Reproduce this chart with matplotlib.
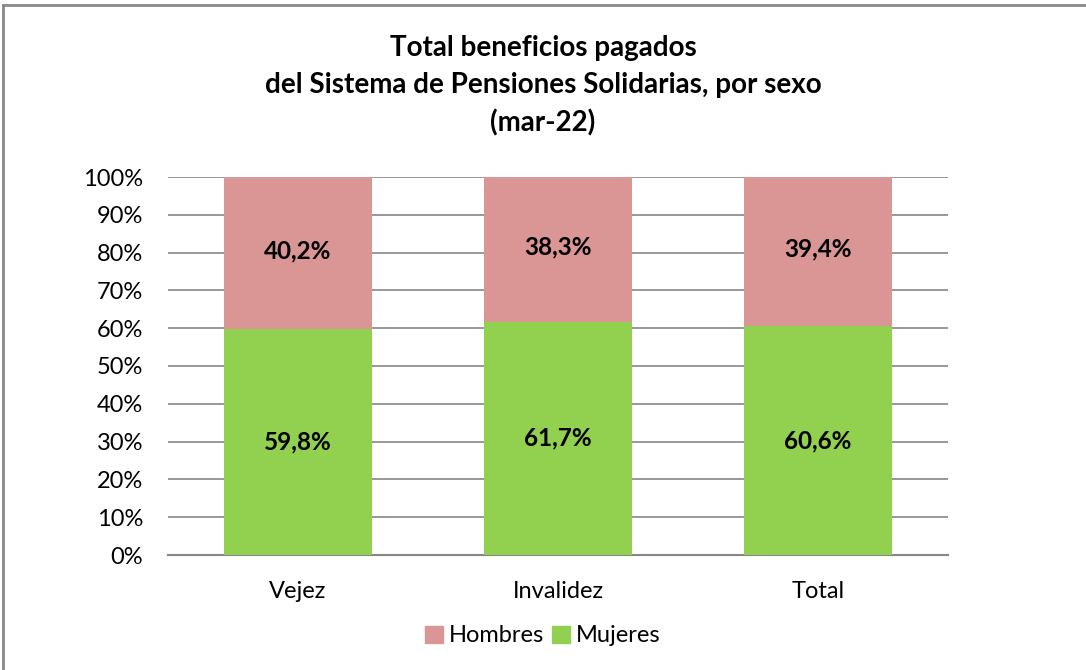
import matplotlib
matplotlib.use("Agg")
import matplotlib.pyplot as plt
from matplotlib.lines import Line2D
from matplotlib.patches import Patch

plt.rcParams['font.family'] = ['Lato', 'DejaVu Sans']

categories = ["Vejez", "Invalidez", "Total"]
mujeres = [59.8, 61.7, 60.6]
hombres = [40.2, 38.3, 39.4]
yticks = [0, 10, 20, 30, 40, 50, 60, 70, 80, 90, 100]

c_h = "#D99694"
c_m = "#92D050"
grid_c = "#868686"

fig = plt.figure(figsize=(10.86, 6.70), dpi=100)
W, H = 1086, 670
ax = fig.add_axes([168 / W, 1 - 555 / H, 780 / W, 378 / H])

x = list(range(len(categories)))
bw = 148 / 260
ax.bar(x, mujeres, width=bw, color=c_m, zorder=3)
ax.bar(x, hombres, width=bw, bottom=mujeres, color=c_h, zorder=3)

for i in x:
    ax.text(i, mujeres[i] / 2, f"{mujeres[i]:.1f}%".replace(".", ","),
            ha="center", va="center", fontsize=17.5, fontweight="bold", zorder=4)
    ax.text(i, mujeres[i] + hombres[i] / 2 + 0.6, f"{hombres[i]:.1f}%".replace(".", ","),
            ha="center", va="center", fontsize=17.5, fontweight="bold", zorder=4)

ax.set_xlim(-0.5, 2.5)
ax.set_ylim(0, 100)
ax.set_yticks(yticks)
ax.set_yticklabels([f"{t}%" for t in yticks], fontsize=17)
ax.set_xticks(x)
ax.set_xticklabels(categories, fontsize=17)
ax.tick_params(axis="y", length=0, pad=18)
ax.tick_params(axis="x", length=0, pad=19)
ax.grid(axis="y", color=grid_c, linewidth=1.2, zorder=0)
for s in ["top", "right", "left"]:
    ax.spines[s].set_visible(False)
ax.spines["bottom"].set_color(grid_c)
ax.spines["bottom"].set_linewidth(1.5)

fig.text(543 / W, 1 - 86 / H,
         "Total beneficios pagados\ndel Sistema de Pensiones Solidarias, por sexo\n(mar-22)",
         ha="center", va="center", fontsize=20, fontweight="bold", linespacing=1.52)

handles = [Patch(color=c_h), Patch(color=c_m)]
fig.legend(handles, ["Hombres", "Mujeres"], loc="center", bbox_to_anchor=(543 / W, 1 - 636 / H),
           ncol=2, frameon=False, fontsize=17, handlelength=0.75, handleheight=0.75,
           handletextpad=0.25, columnspacing=0.35)

# chart border
fig.add_artist(Line2D([3 / W, 1.01], [1 - 5 / H, 1 - 5 / H], transform=fig.transFigure,
                      color="#898989", linewidth=2))
fig.add_artist(Line2D([3 / W, 3 / W], [1 - 5 / H, -0.01], transform=fig.transFigure,
                      color="#898989", linewidth=2))

fig.savefig("out.png", dpi=100)
